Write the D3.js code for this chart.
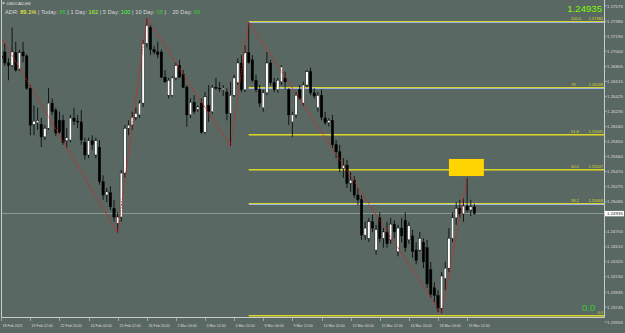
<!DOCTYPE html>
<html>
<head>
<meta charset="utf-8">
<script src="https://cdn.jsdelivr.net/npm/d3@7"></script>
<style>
  html, body { margin: 0; padding: 0; background: #5a6863; }
  svg { display: block; }
  text { font-family: "Liberation Sans", Arial, sans-serif; }
</style>
</head>
<body>
<figure id="chart" style="margin:0"></figure>
<script>
// USDCAD H4 bars
const opens = [
  1.2694, 1.2699, 1.2685, 1.2682, 1.2698, 1.2677, 1.2699, 1.2694, 1.2653, 1.2607,
  1.2609, 1.2607, 1.2591, 1.2602, 1.2634, 1.2625, 1.2612, 1.2612, 1.2586, 1.2587,
  1.2615, 1.2611, 1.2610, 1.2584, 1.2568, 1.2586, 1.2568, 1.2578, 1.2534, 1.2517,
  1.2520, 1.2500, 1.2481, 1.2489, 1.2545, 1.2602, 1.2606, 1.2616, 1.2619, 1.2634,
  1.2710, 1.2730, 1.2702, 1.2699, 1.2699, 1.2667, 1.2644, 1.2644, 1.2666, 1.2682,
  1.2671, 1.2654, 1.2619, 1.2635, 1.2626, 1.2634, 1.2597, 1.2631, 1.2623, 1.2654,
  1.2653, 1.2651, 1.2648, 1.2621, 1.2644, 1.2660, 1.2685, 1.2651, 1.2698, 1.2689,
  1.2663, 1.2651, 1.2628, 1.2647, 1.2685, 1.2660, 1.2651, 1.2661, 1.2666, 1.2651,
  1.2610, 1.2619, 1.2651, 1.2634, 1.2657, 1.2674, 1.2647, 1.2628, 1.2644, 1.2615,
  1.2609, 1.2612, 1.2581, 1.2572, 1.2551, 1.2555, 1.2532, 1.2536, 1.2517, 1.2511,
  1.2466, 1.2462, 1.2483, 1.2447, 1.2488, 1.2462, 1.2470, 1.2460, 1.2480, 1.2445,
  1.2475, 1.2485, 1.2460, 1.2465, 1.2447, 1.2447, 1.2457, 1.2450, 1.2422, 1.2399,
  1.2389, 1.2373, 1.2411, 1.2424, 1.2462, 1.2488, 1.2500, 1.2493, 1.2503, 1.2498, 1.2502
];
const highs = [
  1.2707, 1.2710, 1.2691, 1.2730, 1.2712, 1.2702, 1.2712, 1.2696, 1.2657, 1.2631,
  1.2628, 1.2615, 1.2606, 1.2653, 1.2640, 1.2628, 1.2623, 1.2619, 1.2602, 1.2619,
  1.2628, 1.2619, 1.2625, 1.2590, 1.2590, 1.2593, 1.2590, 1.2587, 1.2542, 1.2526,
  1.2528, 1.2511, 1.2495, 1.2549, 1.2606, 1.2612, 1.2623, 1.2628, 1.2638, 1.2714,
  1.2742, 1.2733, 1.2707, 1.2712, 1.2702, 1.2676, 1.2666, 1.2668, 1.2685, 1.2689,
  1.2676, 1.2657, 1.2640, 1.2644, 1.2631, 1.2640, 1.2648, 1.2657, 1.2657, 1.2666,
  1.2661, 1.2657, 1.2653, 1.2661, 1.2670, 1.2691, 1.2695, 1.2708, 1.2737, 1.2695,
  1.2670, 1.2657, 1.2651, 1.2699, 1.2689, 1.2666, 1.2666, 1.2682, 1.2674, 1.2653,
  1.2623, 1.2648, 1.2657, 1.2661, 1.2676, 1.2679, 1.2653, 1.2648, 1.2651, 1.2623,
  1.2615, 1.2619, 1.2587, 1.2581, 1.2564, 1.2562, 1.2546, 1.2541, 1.2526, 1.2517,
  1.2483, 1.2488, 1.2492, 1.2479, 1.2495, 1.2475, 1.2483, 1.2488, 1.2485, 1.2479,
  1.2488, 1.2495, 1.2483, 1.2473, 1.2457, 1.2470, 1.2462, 1.2460, 1.2432, 1.2406,
  1.2396, 1.2419, 1.2432, 1.2475, 1.2495, 1.2508, 1.2511, 1.2513, 1.2539, 1.2511, 1.2506
];
const lows = [
  1.2686, 1.2681, 1.2663, 1.2680, 1.2674, 1.2675, 1.2686, 1.2651, 1.2593, 1.2593,
  1.2600, 1.2578, 1.2587, 1.2600, 1.2619, 1.2592, 1.2595, 1.2581, 1.2577, 1.2584,
  1.2606, 1.2602, 1.2581, 1.2562, 1.2564, 1.2574, 1.2564, 1.2530, 1.2511, 1.2508,
  1.2498, 1.2483, 1.2469, 1.2483, 1.2539, 1.2593, 1.2600, 1.2612, 1.2615, 1.2629,
  1.2705, 1.2695, 1.2696, 1.2691, 1.2666, 1.2660, 1.2640, 1.2642, 1.2663, 1.2666,
  1.2653, 1.2604, 1.2615, 1.2620, 1.2623, 1.2595, 1.2595, 1.2610, 1.2620, 1.2651,
  1.2648, 1.2643, 1.2612, 1.2579, 1.2642, 1.2657, 1.2648, 1.2648, 1.2684, 1.2661,
  1.2648, 1.2629, 1.2623, 1.2644, 1.2657, 1.2648, 1.2647, 1.2657, 1.2651, 1.2606,
  1.2591, 1.2615, 1.2638, 1.2630, 1.2654, 1.2644, 1.2640, 1.2623, 1.2612, 1.2606,
  1.2604, 1.2577, 1.2564, 1.2546, 1.2539, 1.2526, 1.2521, 1.2513, 1.2504, 1.2460,
  1.2460, 1.2457, 1.2470, 1.2441, 1.2457, 1.2450, 1.2450, 1.2455, 1.2462, 1.2439,
  1.2457, 1.2445, 1.2455, 1.2437, 1.2429, 1.2445, 1.2424, 1.2399, 1.2386, 1.2381,
  1.2368, 1.2366, 1.2396, 1.2419, 1.2457, 1.2479, 1.2488, 1.2483, 1.2495, 1.2490, 1.2492
];
const closes = [
  1.2691, 1.2685, 1.2682, 1.2699, 1.2676, 1.2698, 1.2694, 1.2653, 1.2606, 1.2611,
  1.2612, 1.2591, 1.2602, 1.2634, 1.2623, 1.2596, 1.2597, 1.2584, 1.2590, 1.2615,
  1.2611, 1.2610, 1.2587, 1.2568, 1.2586, 1.2581, 1.2586, 1.2534, 1.2517, 1.2521,
  1.2502, 1.2489, 1.2489, 1.2545, 1.2602, 1.2606, 1.2616, 1.2621, 1.2634, 1.2710,
  1.2733, 1.2702, 1.2699, 1.2696, 1.2667, 1.2661, 1.2663, 1.2666, 1.2682, 1.2667,
  1.2654, 1.2619, 1.2635, 1.2623, 1.2629, 1.2597, 1.2642, 1.2623, 1.2654, 1.2653,
  1.2652, 1.2653, 1.2621, 1.2644, 1.2666, 1.2685, 1.2651, 1.2698, 1.2686, 1.2663,
  1.2651, 1.2634, 1.2647, 1.2685, 1.2660, 1.2651, 1.2663, 1.2680, 1.2661, 1.2619,
  1.2619, 1.2644, 1.2640, 1.2657, 1.2674, 1.2647, 1.2643, 1.2644, 1.2616, 1.2609,
  1.2612, 1.2581, 1.2572, 1.2551, 1.2555, 1.2532, 1.2536, 1.2517, 1.2511, 1.2466,
  1.2475, 1.2483, 1.2475, 1.2473, 1.2462, 1.2470, 1.2455, 1.2480, 1.2470, 1.2475,
  1.2465, 1.2450, 1.2478, 1.2445, 1.2434, 1.2462, 1.2432, 1.2404, 1.2391, 1.2389,
  1.2373, 1.2414, 1.2424, 1.2462, 1.2488, 1.2500, 1.2493, 1.2503, 1.2498, 1.2502, 1.24935
];

// time axis labels (bar index, text)
const timeTickBars = [0, 8, 16, 24, 32, 40, 48, 56, 64, 72, 80, 88, 96, 104, 112, 120, 128];
const timeTickLabels = ["18 Feb 2021", "19 Feb 12:00", "22 Feb 20:00", "24 Feb 04:00", "25 Feb 12:00",
  "26 Feb 20:00", "2 Mar 04:00", "3 Mar 12:00", "4 Mar 20:00", "8 Mar 04:00", "9 Mar 12:00",
  "10 Mar 20:00", "12 Mar 04:00", "15 Mar 12:00", "16 Mar 20:00", "18 Mar 04:00", "19 Mar 12:00"];

const priceTicks = [1.27575, 1.27380, 1.27190, 1.27000, 1.26805, 1.26615, 1.26425, 1.26235, 1.26040,
  1.25850, 1.25660, 1.25470, 1.25275, 1.25085, 1.24700, 1.24510, 1.24320, 1.24130, 1.23935,
  1.23745, 1.23555];

// zigzag swing points
const zigzagBars = [-3, 32, 40, 63, 68, 121, 128];
const zigzagPrices = [1.2741, 1.2469, 1.2742, 1.2579, 1.2737, 1.2366, 1.2539];

// fibonacci retracement, 4 Mar high -> 18 Mar low
const fibStartBar = 68;
const fibLabels = ["100.0", "78", "61.8", "50.0", "38.2", "0.0"];
const fibPrices = [1.27380, 1.26548, 1.25945, 1.25507, 1.25068, 1.23640];

const bidPrice = 1.24935;
const adrParts = [
  ["ADR: ", "#d8d8d8"], ["89.1%", "#ffff33"], [" | Today: ", "#d8d8d8"], ["86", "#33cc33"],
  [" | 1 Day: ", "#d8d8d8"], ["162", "#aaff22"], [" | 5 Day: ", "#d8d8d8"], ["100", "#44ff44"],
  [" | 10 Day: ", "#d8d8d8"], ["95", "#33cc33"], [" |    20 Day: ", "#d8d8d8"], ["99", "#33cc33"]
];

// target zone box
const zoneBars = [123, 132.6];
const zonePrices = [1.25629, 1.25412];

const W = 625, H = 333;
const plotRight = 604.5, plotBottom = 317.5;

const svg = d3.select("#chart").append("svg")
  .attr("width", W).attr("height", H);

svg.append("rect").attr("width", W).attr("height", H).attr("fill", "#5a6863");

const x = d3.scaleLinear().domain([0, 130]).range([1.2, 474.4]);
const y = d3.scaleLinear().domain([1.27575, 1.23555]).range([6, 322]);

svg.append("clipPath").attr("id", "plot")
  .append("rect").attr("x", 1.5).attr("y", 0).attr("width", plotRight - 1.5).attr("height", plotBottom);

const plot = svg.append("g").attr("clip-path", "url(#plot)");

// bid line
plot.append("line")
  .attr("x1", 0).attr("x2", plotRight)
  .attr("y1", y(bidPrice)).attr("y2", y(bidPrice))
  .attr("stroke", "#8b9a95").attr("stroke-width", 1);

// fib levels
const fibX0 = x(fibStartBar);
fibPrices.forEach((p, i) => {
  const yy = Math.round(y(p)) + 0.5;
  const under = ["100.0", "78", "38.2"].includes(fibLabels[i]) ? "#9fb2e6" : "#a3a23c";
  plot.append("line").attr("x1", fibX0).attr("x2", plotRight)
    .attr("y1", yy + 1).attr("y2", yy + 1).attr("stroke", under).attr("stroke-width", 1);
  plot.append("line").attr("x1", fibX0).attr("x2", plotRight)
    .attr("y1", yy).attr("y2", yy).attr("stroke", "#d6d62a").attr("stroke-width", 1);
  if (fibLabels[i] === "0.0") {
    svg.append("text").attr("x", 603).attr("y", yy - 1.5)
      .attr("text-anchor", "end").attr("font-size", 4).attr("fill", "#d6d62a").text("0.0");
  } else {
    svg.append("text").attr("x", 571).attr("y", yy - 1.5)
      .attr("font-size", 4).attr("fill", "#d6d62a").text(fibLabels[i]);
    svg.append("text").attr("x", 603).attr("y", yy - 1.5)
      .attr("text-anchor", "end").attr("font-size", 4).attr("fill", "#d6d62a").text(p.toFixed(5));
  }
});

// candles
const idx = d3.range(closes.length);
const bw = 2.4;
const candles = plot.selectAll("g.bar").data(idx).enter().append("g").attr("class", "bar");
candles.append("line")
  .attr("x1", i => x(i)).attr("x2", i => x(i))
  .attr("y1", i => y(highs[i])).attr("y2", i => y(lows[i]))
  .attr("stroke", "#000").attr("stroke-width", 0.8);
candles.append("rect")
  .attr("x", i => x(i) - bw / 2)
  .attr("y", i => y(Math.max(opens[i], closes[i])))
  .attr("width", bw)
  .attr("height", i => Math.max(0.8, Math.abs(y(opens[i]) - y(closes[i]))))
  .attr("fill", i => closes[i] >= opens[i] ? "#ffffff" : "#000000")
  .attr("stroke", "#000").attr("stroke-width", 0.4);

// zigzag
plot.append("path")
  .datum(d3.zip(zigzagBars, zigzagPrices))
  .attr("d", d3.line().x(d => x(d[0])).y(d => y(d[1])))
  .attr("fill", "none").attr("stroke", "#e51c1c").attr("stroke-width", 0.8)
  .attr("stroke-dasharray", "2,1");

// zone box
plot.append("rect")
  .attr("x", x(zoneBars[0])).attr("y", y(zonePrices[0]))
  .attr("width", x(zoneBars[1]) - x(zoneBars[0]))
  .attr("height", y(zonePrices[1]) - y(zonePrices[0]))
  .attr("fill", "#ffd400");

// frame
svg.append("path")
  .attr("d", `M1.5,0V${plotBottom}H${plotRight}V0`)
  .attr("fill", "none").attr("stroke", "#c8cccb").attr("stroke-width", 1);

// price axis
priceTicks.forEach(p => {
  svg.append("line").attr("x1", plotRight).attr("x2", plotRight + 2.5)
    .attr("y1", y(p)).attr("y2", y(p)).attr("stroke", "#c8cccb").attr("stroke-width", 0.6);
  svg.append("text").attr("x", 607).attr("y", y(p) + 1.5)
    .attr("font-size", 4.4).attr("fill", "#dcdcdc").text(p.toFixed(5));
});
svg.append("rect").attr("x", 605).attr("y", y(bidPrice) - 2.6).attr("width", 19).attr("height", 5.4)
  .attr("fill", "#ffffff");
svg.append("text").attr("x", 607).attr("y", y(bidPrice) + 1.6)
  .attr("font-size", 4.4).attr("fill", "#222").text(bidPrice.toFixed(5));

// time axis
timeTickBars.forEach((b, i) => {
  const xx = Math.round(x(b)) + 0.5;
  svg.append("line").attr("x1", xx).attr("x2", xx).attr("y1", plotBottom).attr("y2", plotBottom + 3.5)
    .attr("stroke", "#c8cccb").attr("stroke-width", 0.6);
  svg.append("text").attr("x", xx + 1).attr("y", 327)
    .attr("font-size", 3.6).attr("fill", "#dcdcdc").text(timeTickLabels[i]);
});

// header texts
svg.append("path").attr("d", "M2,2.5L5,2.5L3.5,4.5Z").attr("fill", "#dcdcdc");
svg.append("text").attr("x", 6.5).attr("y", 5).attr("font-size", 4.2).attr("fill", "#e8e8e8").text("USDCAD,H4");

const adr = svg.append("text").attr("x", 5).attr("y", 14).attr("font-size", 5.6)
  .attr("textLength", 195).attr("lengthAdjust", "spacing");
adrParts.forEach(([t, c]) => adr.append("tspan").attr("fill", c).attr("xml:space", "preserve").text(t));

svg.append("text").attr("x", 602).attr("y", 12)
  .attr("text-anchor", "end").attr("font-size", 9.6).attr("fill", "#7cfc00")
  .text(bidPrice.toFixed(5));
svg.append("text").attr("x", 582).attr("y", 310.5)
  .attr("font-size", 9.5).attr("fill", "#33cc33").text("0.0");
</script>
</body>
</html>
